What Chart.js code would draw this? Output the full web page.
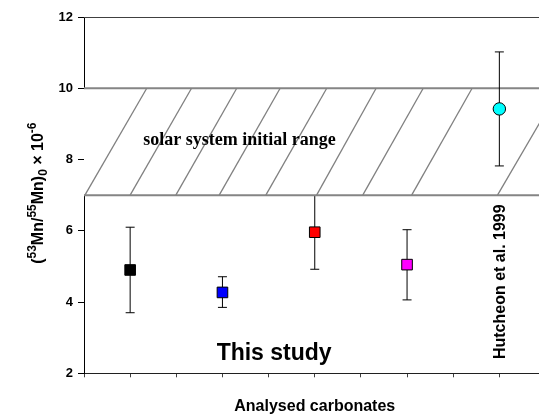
<!DOCTYPE html>
<html lang="en">

<head>
    <meta charset="UTF-8">
    <title>53Mn/55Mn</title>
    <script src="https://cdn.jsdelivr.net/npm/chart.js"></script>
    <style>
        html, body { margin: 0; padding: 0; overflow: hidden; background: #fff; }
        .chart_box { width: 560px; height: 417px; }
    </style>
</head>

<body>
    <div class="chart_box">
        <canvas id="myChartCanvas"></canvas>
    </div>

<script>
    // samples sit on every other slot of the category axis
    const samplePos = [1, 3, 5, 7, 9];
    const ratio = [4.9, 4.27, 5.96, 5.05, 9.42];
    const errLow = [3.7, 3.85, 4.92, 4.06, 7.82];
    const errHigh = [6.1, 4.71, 7.0, 6.03, 11.02];
    const sampleColors = ['#000000', '#0000ff', '#ff0000', '#ff00ff', '#00ffff'];
    const sampleShapes = ['rect', 'rect', 'rect', 'rect', 'circle'];

    const yTicks = [2, 4, 6, 8, 10, 12];
    const xSlots = [0, 1, 2, 3, 4, 5, 6, 7, 8, 9, 10];

    // solar system initial range band + hand drawn hatching
    const bandLow = 7;
    const bandHigh = 10;
    const hatchBottom = [0.02, 1.0, 1.99, 2.93, 3.94, 5.04, 6.04, 7.10, 8.96];
    const hatchTop = [1.36, 2.33, 3.31, 4.25, 5.26, 6.33, 7.35, 8.41, 10.31];

    const sansBold = "bold {s}px Arial, 'Liberation Sans', sans-serif";
    function sans(size) { return sansBold.replace('{s}', size); }

    let datasets = [];

    // error bars (the last one is drawn over the band)
    for (let i = 0; i < samplePos.length; i++) {
        datasets.push({
            data: [{ x: samplePos[i], y: errLow[i] }, { x: samplePos[i], y: errHigh[i] }],
            showLine: true,
            borderColor: '#000',
            borderWidth: 1,
            pointStyle: 'line',
            pointRadius: 4.5,
            pointBorderColor: '#000',
            pointBorderWidth: 1,
            order: i == samplePos.length - 1 ? 2 : 5
        });
    }

    // white band with its top border
    datasets.push({
        data: [{ x: 0, y: bandHigh }, { x: 11, y: bandHigh }],
        showLine: true,
        borderColor: '#858585',
        borderWidth: 2,
        pointRadius: 0,
        fill: { value: bandLow },
        backgroundColor: '#ffffff',
        order: 4
    });
    datasets.push({
        data: [{ x: 0, y: bandLow }, { x: 11, y: bandLow }],
        showLine: true,
        borderColor: '#858585',
        borderWidth: 2,
        pointRadius: 0,
        order: 3
    });
    for (let i = 0; i < hatchBottom.length; i++) {
        datasets.push({
            data: [{ x: hatchBottom[i], y: bandLow }, { x: hatchTop[i], y: bandHigh }],
            showLine: true,
            borderColor: '#808080',
            borderWidth: 1.3,
            pointRadius: 0,
            order: 3
        });
    }

    // the samples
    datasets.push({
        data: samplePos.map((x, i) => ({ x: x, y: ratio[i] })),
        pointStyle: sampleShapes,
        pointRadius: [7.5, 7.5, 7.5, 7.5, 6.2],
        pointBackgroundColor: sampleColors,
        pointBorderColor: '#000',
        pointBorderWidth: 1,
        order: 1
    });

    function fitScale(size, horizontal) {
        return function (scale) {
            if (horizontal) scale.height = size; else scale.width = size;
            scale.paddingLeft = 0;
            scale.paddingRight = 0;
            scale.paddingTop = 0;
            scale.paddingBottom = 0;
        };
    }

    const textPlugin = {
        id: 'texts',
        afterDraw(chart) {
            const ctx = chart.ctx;
            const xs = chart.scales.x;
            const ys = chart.scales.y;
            const area = chart.chartArea;
            ctx.save();

            // top frame line
            ctx.strokeStyle = '#404040';
            ctx.lineWidth = 1;
            ctx.beginPath();
            ctx.moveTo(area.left, Math.round(area.top) + 0.5);
            ctx.lineTo(area.right, Math.round(area.top) + 0.5);
            ctx.stroke();

            ctx.fillStyle = '#000';
            ctx.textBaseline = 'alphabetic';
            ctx.textAlign = 'center';

            ctx.font = "bold 18px 'Times New Roman', 'Liberation Serif', serif";
            ctx.fillText('solar system initial range', xs.getPixelForValue(3.37), ys.getPixelForValue(8.41));

            ctx.font = sans(23);
            ctx.fillText('This study', xs.getPixelForValue(4.12), ys.getPixelForValue(2.37));

            ctx.save();
            ctx.translate(xs.getPixelForValue(9.12), ys.getPixelForValue(4.57));
            ctx.rotate(-Math.PI / 2);
            ctx.font = sans(16);
            ctx.fillText('Hutcheon et al. 1999', 0, 0);
            ctx.restore();

            // y title with super/subscripts
            const parts = [
                ['(', 16, 0], ['53', 12, -7], ['Mn/', 16, 0], ['55', 12, -7],
                ['Mn)', 16, 0], ['0', 12, 4], [' \u00d7 10', 16, 0], ['-6', 12, -7]
            ];
            let total = 0;
            parts.forEach(p => { ctx.font = sans(p[1]); total += ctx.measureText(p[0]).width; });
            ctx.save();
            ctx.translate(43, (area.top + area.bottom) / 2 - 2);
            ctx.rotate(-Math.PI / 2);
            ctx.textAlign = 'left';
            let pos = -total / 2;
            parts.forEach(p => {
                ctx.font = sans(p[1]);
                ctx.fillText(p[0], pos, p[2]);
                pos += ctx.measureText(p[0]).width;
            });
            ctx.restore();

            ctx.restore();
        }
    };

    const config = {
        type: 'scatter',
        data: { datasets: datasets },
        options: {
            responsive: true,
            maintainAspectRatio: false,
            animation: false,
            events: [],
            layout: { padding: { left: 0, right: 14.5, top: 17, bottom: 0 } },
            plugins: {
                legend: { display: false },
                tooltip: { enabled: false }
            },
            scales: {
                x: {
                    type: 'linear',
                    min: xSlots[0],
                    max: xSlots[xSlots.length - 1],
                    afterBuildTicks: (scale) => { scale.ticks = xSlots.map(v => ({ value: v })); },
                    ticks: { display: false },
                    grid: { drawOnChartArea: false, drawTicks: true, tickLength: 4, color: '#404040', lineWidth: 1 },
                    border: { color: '#202020', width: 1 },
                    title: {
                        display: true,
                        text: 'Analysed carbonates',
                        color: '#000',
                        font: { family: "Arial, 'Liberation Sans', sans-serif", size: 16, weight: 'bold' },
                        padding: { top: 0, bottom: 1 }
                    },
                    afterFit: fitScale(417 - 373.3, true)
                },
                y: {
                    min: yTicks[0],
                    max: yTicks[yTicks.length - 1],
                    afterBuildTicks: (scale) => { scale.ticks = yTicks.map(v => ({ value: v })); },
                    ticks: {
                        color: '#000',
                        padding: 5,
                        font: { family: "Arial, 'Liberation Sans', sans-serif", size: 13, weight: 'bold' }
                    },
                    grid: { drawOnChartArea: false, drawTicks: true, tickLength: 6, color: '#000', lineWidth: 1 },
                    border: { color: '#000', width: 1 },
                    afterFit: fitScale(84, false)
                }
            }
        },
        plugins: [textPlugin]
    };

    let myChart = new Chart(document.getElementById('myChartCanvas'), config);
</script>
</body>

</html>
